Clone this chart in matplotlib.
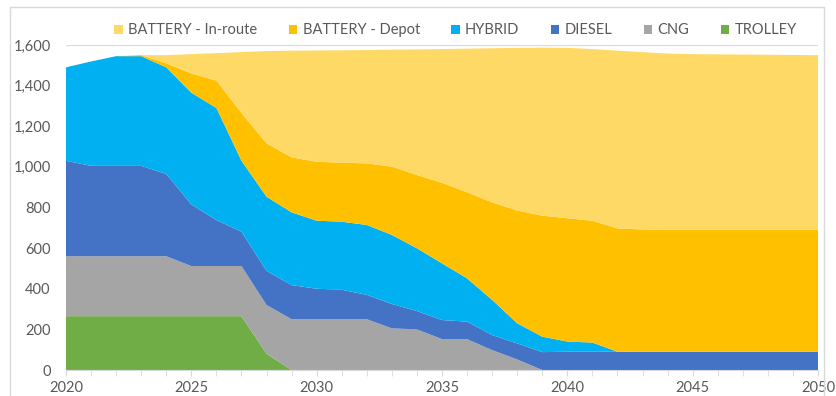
import matplotlib
matplotlib.use("Agg")
import matplotlib.pyplot as plt
from matplotlib.patches import Rectangle
from matplotlib.ticker import FuncFormatter, MultipleLocator

plt.rcParams['font.family'] = ['Lato', 'DejaVu Sans']

years = list(range(2020, 2051))

# bus fleet by propulsion type, stacked bottom to top
trolley = [265, 265, 265, 265, 265, 265, 265, 265, 80, 0,
           0, 0, 0, 0, 0, 0, 0, 0, 0, 0,
           0, 0, 0, 0, 0, 0, 0, 0, 0, 0, 0]
cng = [295, 295, 295, 295, 295, 247, 247, 247, 240, 250,
       250, 250, 250, 205, 200, 152, 152, 98, 52, 0,
       0, 0, 0, 0, 0, 0, 0, 0, 0, 0, 0]
diesel = [470, 445, 445, 445, 405, 303, 226, 169, 168, 168,
          150, 145, 120, 120, 90, 94, 86, 74, 79, 88,
          90, 90, 90, 90, 90, 90, 90, 90, 90, 90, 90]
hybrid = [460, 514, 540, 540, 525, 550, 552, 349, 365, 358,
          335, 335, 344, 340, 309, 279, 213, 173, 99, 76,
          50, 45, 0, 0, 0, 0, 0, 0, 0, 0, 0]
depot = [0, 0, 0, 5, 20, 95, 135, 235, 263, 271,
         290, 291, 303, 336, 361, 397, 424, 480, 555, 596,
         607, 600, 607, 602, 600, 600, 600, 600, 600, 600, 600]
inroute = [0, 0, 0, 0, 40, 95, 135, 300, 454, 525,
           548, 553, 558, 576, 618, 658, 707, 759, 801, 827,
           839, 845, 875, 873, 868, 865, 864, 863, 862, 861, 860]

series = [trolley, cng, diesel, hybrid, depot, inroute]
names = ["TROLLEY", "CNG", "DIESEL", "HYBRID", "BATTERY - Depot", "BATTERY - In-route"]
colors = ["#70AD47", "#A5A5A5", "#4472C4", "#00B0F0", "#FFC000", "#FFD966"]

fig = plt.figure(figsize=(8.37, 3.96), dpi=100)
ax = fig.add_axes([66 / 837, 26 / 396, 752 / 837, 325 / 396])

# outer chart border
fig.patches.append(Rectangle((10 / 837, -0.05), 814 / 837, 1.05 - 7 / 396,
                             transform=fig.transFigure, fill=False,
                             edgecolor="#D9D9D9", linewidth=1.0))

ax.stackplot(years, *series, labels=names, colors=colors, linewidth=0)

ax.set_xlim(2020, 2050)
ax.set_ylim(0, 1600)
ax.set_axisbelow(True)
ax.yaxis.set_major_locator(MultipleLocator(200))
ax.yaxis.set_major_formatter(FuncFormatter(lambda v, p: f"{int(v):,}"))
ax.xaxis.set_major_locator(MultipleLocator(5))
ax.xaxis.set_minor_locator(MultipleLocator(1))
ax.grid(axis="y", color="#D9D9D9", linewidth=0.8)

for s in ["top", "right", "left"]:
    ax.spines[s].set_visible(False)
ax.spines["bottom"].set_color("#D9D9D9")

ax.tick_params(axis="y", length=0, labelsize=10.5, labelcolor="#595959", pad=11)
ax.tick_params(axis="x", which="both", direction="out", length=4,
               color="#D9D9D9", labelsize=10.5, labelcolor="#595959", pad=4)

handles, labels = ax.get_legend_handles_labels()
leg = ax.legend(handles[::-1], labels[::-1], loc="center", ncol=6,
                bbox_to_anchor=(0.518, 1.045), frameon=False,
                fontsize=10.5, handlelength=0.6, handleheight=0.6,
                handletextpad=0.35, columnspacing=2.15)
for t in leg.get_texts():
    t.set_color("#595959")

fig.savefig("out.png", dpi=100)
